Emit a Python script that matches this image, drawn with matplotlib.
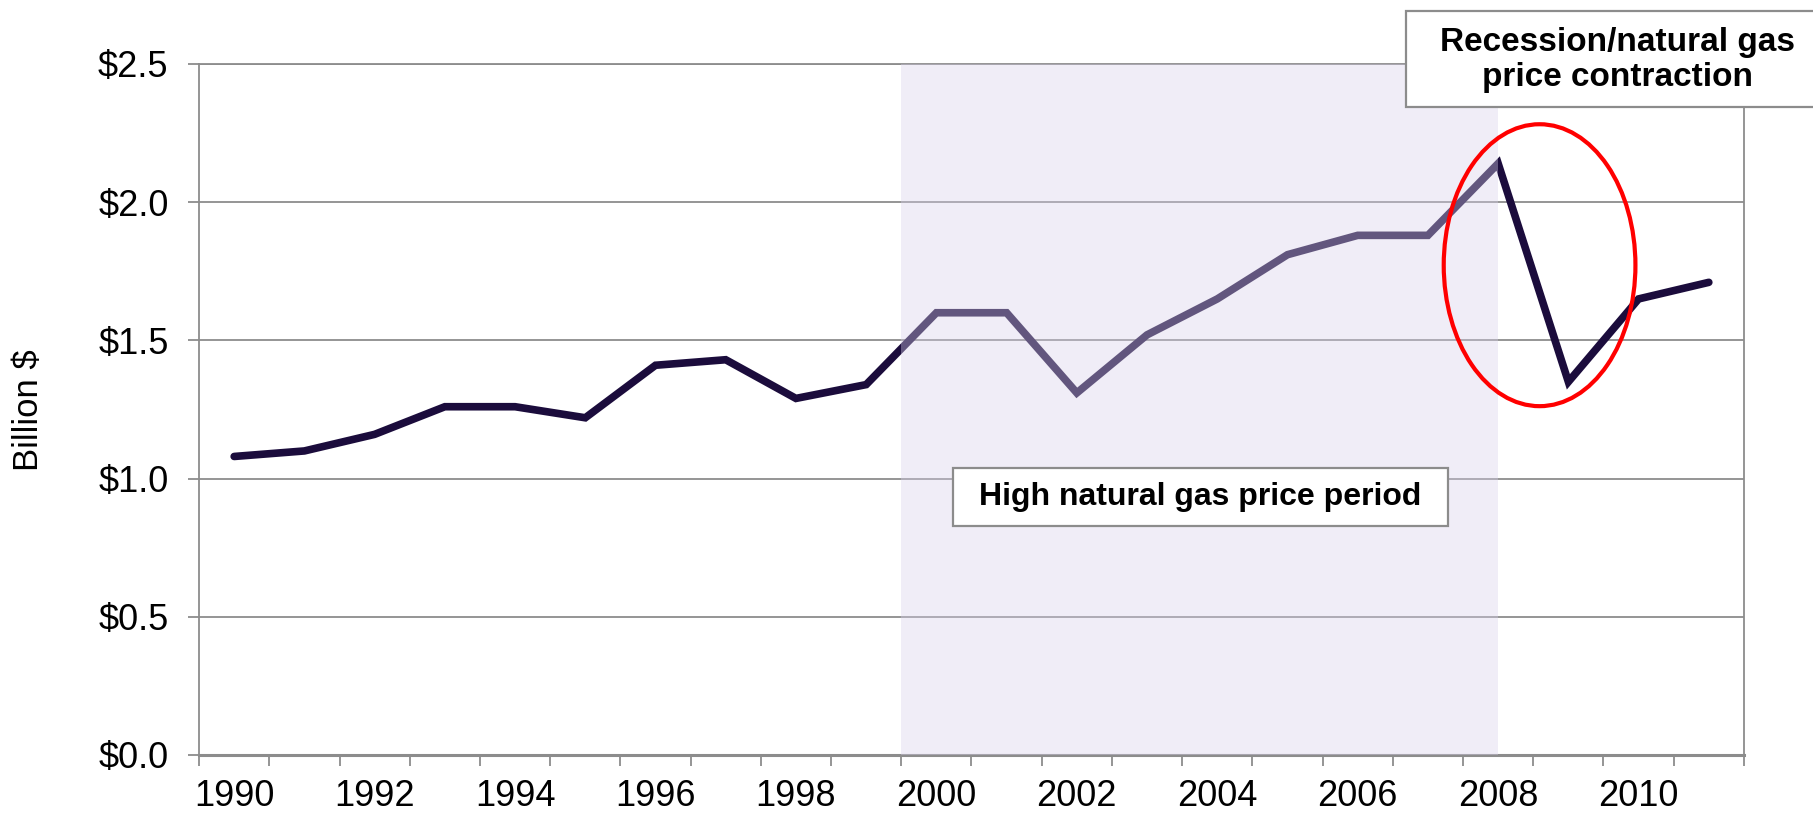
import numpy as np
import matplotlib
matplotlib.use('Agg')
import matplotlib.pyplot as plt
from matplotlib.patches import Rectangle, Ellipse

plt.rcParams['font.family'] = ['Liberation Sans', 'DejaVu Sans']

# data (billion $)
years = list(range(1990, 2012))
values = [1.08, 1.10, 1.16, 1.26, 1.26, 1.22, 1.41, 1.43, 1.29, 1.34, 1.60,
          1.60, 1.31, 1.52, 1.65, 1.81, 1.88, 1.88, 2.14, 1.35, 1.65, 1.71]
ytick_vals = [0.0, 0.5, 1.0, 1.5, 2.0, 2.5]
ytick_labels = ['$0.0', '$0.5', '$1.0', '$1.5', '$2.0', '$2.5']
label_years = list(range(1990, 2011, 2))
high_price_start, high_price_end = 2000, 2008
box1_text = 'High natural gas price period'
box2_text = 'Recession/natural gas\nprice contraction'

line_col = '#1b0c3c'
grid_col = '#8c8c8c'

fig = plt.figure(figsize=(18.13, 8.14), dpi=100)
ax = fig.add_axes([0.1098, 0.0725, 0.8521, 0.8489])

x = np.arange(len(years))
ax.plot(x, values, color=line_col, lw=5.5, solid_joinstyle='miter',
        solid_capstyle='round', zorder=2)

# shaded high-price period (drawn over the line, semi-transparent)
xs = years.index(high_price_start) - 0.5
xe = years.index(high_price_end)
ax.add_patch(Rectangle((xs, 0), xe - xs, 2.51, facecolor='#d8d0ea', alpha=0.38,
                       edgecolor='none', zorder=3))

ax.set_xlim(-0.5, len(years) - 0.5)
ax.set_ylim(0, 2.5)

# y axis
ax.set_yticks(ytick_vals)
ax.set_yticklabels(ytick_labels)
ax.yaxis.grid(True, color=grid_col, lw=1.3, zorder=0)
ax.set_axisbelow(True)
ax.tick_params(axis='y', length=8, width=1.3, color=grid_col, pad=14, labelsize=26)

# x axis: ticks between categories, labels at category centres
ax.set_xticks(np.arange(-0.5, len(years), 1), minor=True)
ax.set_xticks([years.index(y) for y in label_years])
ax.set_xticklabels([str(y) for y in label_years])
ax.tick_params(axis='x', which='minor', length=8, width=1.3, color=grid_col)
ax.tick_params(axis='x', which='major', length=0, pad=17, labelsize=26)

for s in ['left', 'right', 'top']:
    ax.spines[s].set_color(grid_col)
    ax.spines[s].set_linewidth(1.3)
ax.spines['bottom'].set_color(grid_col)
ax.spines['bottom'].set_linewidth(2.2)

fig.text(28 / 1813, 1 - 410 / 814, 'Billion $', rotation=90, ha='center',
         va='center', fontsize=25)

# annotation box in the shaded area
ax.add_patch(Rectangle((10.23, 0.83), 7.06, 0.21, facecolor='white',
                       edgecolor=grid_col, lw=1.6, zorder=5))
ax.text(13.76, 0.935, box1_text, ha='center', va='center', fontsize=23,
        fontweight='bold', zorder=6)

# red ellipse around the recession drop
ax.add_patch(Ellipse((18.59, 1.772), 2.73, 1.02, facecolor='none',
                     edgecolor='#ff0000', lw=3, zorder=6))

# recession box, partly off the figure edge
fig.patches.append(Rectangle((1406 / 1813, 1 - 107 / 814), 430 / 1813, 96 / 814,
                             transform=fig.transFigure, facecolor='white',
                             edgecolor=grid_col, lw=1.6, zorder=5))
fig.text(1617 / 1813, 1 - 60 / 814, box2_text, ha='center', va='center',
         fontsize=24, fontweight='bold', linespacing=1.15, zorder=6)

plt.savefig('out.png', dpi=100)
